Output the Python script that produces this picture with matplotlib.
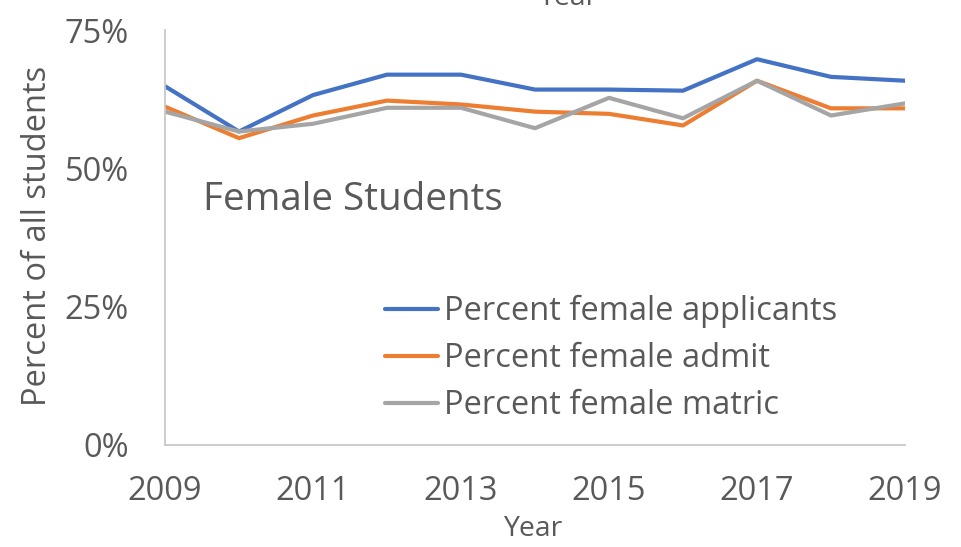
import matplotlib
matplotlib.use("Agg")
import matplotlib.pyplot as plt
from matplotlib.ticker import FuncFormatter

plt.rcParams['font.family'] = ['Open Sans', 'DejaVu Sans']

years = [2009, 2010, 2011, 2012, 2013, 2014, 2015, 2016, 2017, 2018, 2019]
applicants = [64.9, 56.7, 63.3, 67.0, 67.0, 64.3, 64.3, 64.1, 69.8, 66.6, 65.9]
admit = [61.2, 55.5, 59.6, 62.3, 61.6, 60.3, 59.9, 57.8, 65.9, 60.9, 60.9]
matric = [60.3, 56.7, 58.1, 61.0, 61.0, 57.3, 62.8, 59.1, 65.9, 59.6, 61.8]
series_labels = ["Percent female applicants", "Percent female admit", "Percent female matric"]
x_ticks = [2009, 2011, 2013, 2015, 2017, 2019]
y_ticks = [0, 25, 50, 75]

colors = ['#4472C4', '#ED7D31', '#A5A5A5']
txt = '#595959'

W, H = 961, 547
fig = plt.figure(figsize=(W / 100, H / 100), dpi=100)
ax = fig.add_axes([165 / W, 1 - 444.5 / H, 740 / W, (444.5 - 30.5) / H])

for vals, lab, c in zip([applicants, admit, matric], series_labels, colors):
    ax.plot(years, vals, color=c, lw=3.0, label=lab, solid_joinstyle='round', solid_capstyle='round')

ax.set_xlim(2009, 2019)
ax.set_ylim(0, 75)
ax.set_xticks(x_ticks)
ax.set_yticks(y_ticks)
ax.yaxis.set_major_formatter(FuncFormatter(lambda v, p: f"{int(v)}%"))
ax.tick_params(axis='both', length=0, labelsize=23.5, labelcolor=txt)
ax.tick_params(axis='x', pad=22)
ax.tick_params(axis='y', pad=26)
for s in ['top', 'right']:
    ax.spines[s].set_visible(False)
for s in ['left', 'bottom']:
    ax.spines[s].set_color('#C8C8C8')
    ax.spines[s].set_linewidth(1.3)

ax.set_ylabel("Percent of all students", fontsize=23.5, color=txt)
ax.yaxis.set_label_coords(54 / W, 1 - 236 / H, transform=fig.transFigure)
fig.text(533 / W, 1 - 535.5 / H, "Year", fontsize=20.4, color=txt, ha='center', va='baseline')
fig.text(568 / W, 1 - 5 / H, "Year", fontsize=20.4, color=txt, ha='center', va='baseline')

fig.text(203 / W, 1 - 200 / H, "Female Students", fontsize=27.8, color=txt, ha='left', va='center')

leg = ax.legend(loc='upper left', bbox_to_anchor=(385 / W, 1 - 295 / H), bbox_transform=fig.transFigure,
                frameon=False, fontsize=23.5, handlelength=1.63, handletextpad=0.18,
                labelspacing=0.43, borderpad=0, borderaxespad=0)
for t in leg.get_texts():
    t.set_color(txt)

fig.savefig("out.png", dpi=100)
